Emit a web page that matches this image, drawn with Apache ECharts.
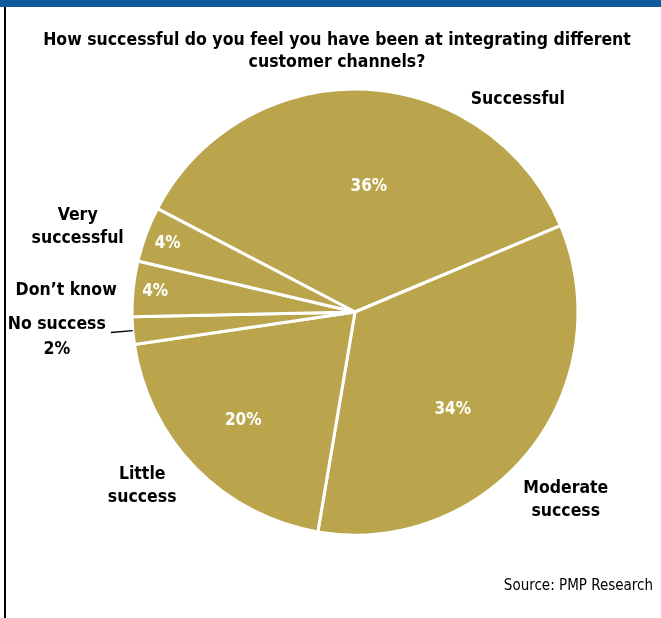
<!DOCTYPE html>
<html>
<head>
<meta charset="utf-8">
<script src="https://cdn.jsdelivr.net/npm/echarts@6/dist/echarts.min.js"></script>
<style>
    html, body { margin: 0; padding: 0; background: #fff; }
    #chart { width: 661px; height: 618px; }
</style>
</head>
<body>
<div id="chart"></div>
<script>
// survey answers, clockwise from the "Very successful" / "Successful" edge
let categories = ['Successful', 'Moderate success', 'Little success', 'No success', 'Don\u2019t know', 'Very successful'];
let shares = [36, 34, 20, 2, 4, 4];
let nameLabels = ['Successful', 'Moderate\nsuccess', 'Little\nsuccess', '{n|No success}\n{n|2%}', 'Don\u2019t know', 'Very\nsuccessful'];

window.onload = function () {
    let chart = echarts.init(document.getElementById('chart'));
    let font = '"DejaVu Sans Condensed", Roboto, sans-serif';

    // nudges for labels, keyed by category
    let pctShift = {
        'Successful': [9, -11],
        'Moderate success': [8, 26],
        'Little success': [-30, 28],
        'Don\u2019t know': [-86, -8],
        'Very successful': [-80, -29]
    };
    let nameShift = {
        'Successful': [158, -98],
        'Moderate success': [121, 117],
        'Little success': [-131, 94],
        'Don\u2019t know': [-175, -10],
        'Very successful': [-170, -45]
    };

    let pctData = categories.map((c, i) => ({
        name: c,
        value: shares[i],
        label: pctShift[c] ? { offset: pctShift[c] } : { show: false }
    }));

    let nameData = categories.map((c, i) => {
        let item = { name: c, value: shares[i] };
        if (nameShift[c]) {
            item.label = { position: 'inside', offset: nameShift[c], formatter: nameLabels[i] };
            item.labelLine = { show: false };
        } else {
            item.label = { position: 'outside', formatter: nameLabels[i], offset: [0, 4] };
            item.labelLine = { show: true, length: 22, length2: 0, lineStyle: { color: '#000', width: 1.3 } };
        }
        return item;
    });

    let option = {
        animation: false,
        title: {
            text: 'How successful do you feel you have been at integrating different\ncustomer channels?',
            left: 337,
            top: 29,
            padding: 0,
            textAlign: 'center',
            textStyle: {
                fontFamily: font,
                fontWeight: 'bold',
                fontSize: 17.5,
                lineHeight: 22,
                color: '#000'
            }
        },
        graphic: [
            { type: 'rect', left: 0, top: 0, shape: { width: 661, height: 7 }, style: { fill: '#0d5a9e' } },
            { type: 'rect', left: 4, top: 7, shape: { width: 2, height: 611 }, style: { fill: '#000' } },
            {
                type: 'text', right: 8, top: 579,
                style: { text: 'Source: PMP Research', font: '15px ' + font, fill: '#000' }
            }
        ],
        series: [
            {
                type: 'pie',
                center: [355, 312],
                radius: [0, 223],
                startAngle: 152.4,
                clockwise: true,
                avoidLabelOverlap: false,
                itemStyle: { color: '#bba54c', borderColor: '#fff', borderWidth: 3 },
                label: {
                    position: 'inside',
                    formatter: (p) => p.value + '%',
                    color: '#fff',
                    fontFamily: font,
                    fontWeight: 'bold',
                    fontSize: 17
                },
                labelLine: { show: false },
                emphasis: { disabled: true },
                data: pctData
            },
            {
                type: 'pie',
                center: [355, 312],
                radius: [0, 223],
                startAngle: 152.4,
                clockwise: true,
                silent: true,
                z: 3,
                avoidLabelOverlap: false,
                itemStyle: { color: 'rgba(0,0,0,0)', borderWidth: 0 },
                label: {
                    color: '#000',
                    fontFamily: font,
                    fontWeight: 'bold',
                    fontSize: 17.5,
                    lineHeight: 23,
                    distanceToLabelLine: 5,
                    rich: {
                        n: { align: 'center', color: '#000', fontFamily: font, fontWeight: 'bold', fontSize: 17.5, lineHeight: 25 }
                    }
                },
                emphasis: { disabled: true },
                data: nameData
            }
        ]
    };
    chart.setOption(option);
}
</script>
</body>
</html>
